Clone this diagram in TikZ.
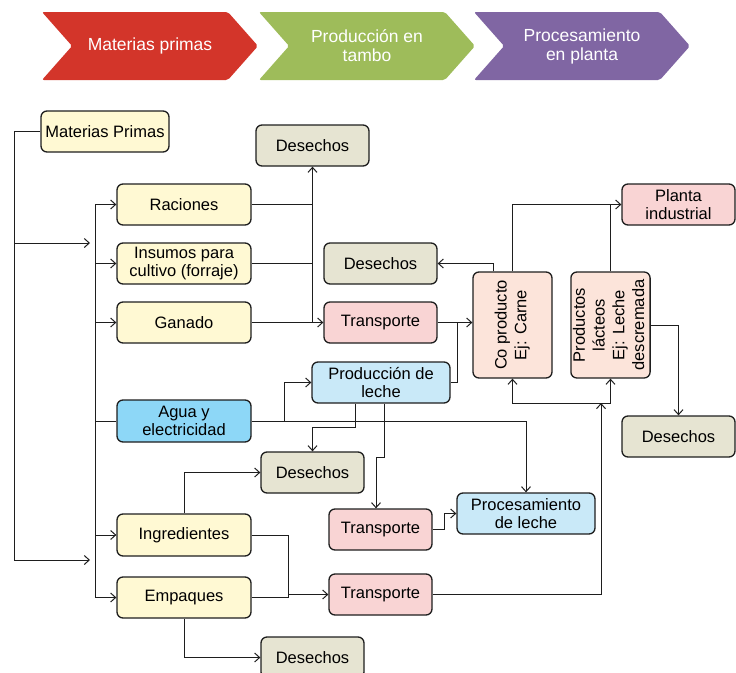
\documentclass[tikz,border=0pt]{standalone}
\usepackage{fontspec}
\setmainfont{Liberation Sans}
\usetikzlibrary{arrows.meta,shapes.symbols}
\definecolor{rojo}{HTML}{D3352A}
\definecolor{verde}{HTML}{9EBC5A}
\definecolor{morado}{HTML}{8066A3}
\definecolor{amarillo}{HTML}{FFF9D3}
\definecolor{gris}{HTML}{E6E4D2}
\definecolor{rosa}{HTML}{F9D4D4}
\definecolor{salmon}{HTML}{FCE4DA}
\definecolor{celeste}{HTML}{C9E9F8}
\definecolor{azul}{HTML}{8DD7F7}
\definecolor{trazo}{HTML}{1E1E1E}
\tikzset{
  caja/.style={draw=trazo,line width=1.3pt,rounded corners=6pt,minimum height=41pt,inner sep=0pt,align=center},
  flecha/.style={-{Straight Barb[length=5pt,width=9pt]},trazo,line width=1pt},
  linea/.style={trazo,line width=1pt},
  encabezado/.style={signal,signal to=east,signal from=west,signal pointer angle=97,minimum width=216pt,minimum height=68pt,inner sep=0pt,text=white,align=center,rounded corners=2pt,font=\fontsize{17.5}{19}\selectfont},
}
\newcommand{\vertical}[1]{\rotatebox{90}{\renewcommand{\arraystretch}{1.1}\begin{tabular}{@{}c@{}}#1\end{tabular}}}

\begin{document}
\begin{tikzpicture}[x=1pt,y=-1pt,font=\fontsize{16.5}{18}\selectfont]
  \useasboundingbox (0,0) rectangle (736,672);
  % encabezado
  \node[encabezado,fill=rojo] (h1) at (150,46) {Materias primas};
  \node[encabezado,fill=verde] (h2) at (367,46) {Producción en\\tambo};
  \node[encabezado,fill=morado] (h3) at (582,46) {Procesamiento\\en planta};
  % columna de insumos
  \node[caja,fill=amarillo,minimum width=128pt] (mp) at (105,131.5) {Materias Primas};
  \node[caja,fill=amarillo,minimum width=134pt] (rac) at (184,204.5) {Raciones};
  \node[caja,fill=amarillo,minimum width=134pt] (ins) at (184,263.5) {Insumos para\\cultivo (forraje)};
  \node[caja,fill=amarillo,minimum width=134pt] (gan) at (184,322.5) {Ganado};
  \node[caja,fill=azul,minimum width=134pt,minimum height=42pt] (agua) at (184,421) {Agua y\\electricidad};
  \node[caja,fill=amarillo,minimum width=134pt,minimum height=42pt] (ingr) at (184,535) {Ingredientes};
  \node[caja,fill=amarillo,minimum width=134pt] (emp) at (184,597.5) {Empaques};
  % tambo
  \node[caja,fill=gris,minimum width=113pt] (des1) at (312.5,145.5) {Desechos};
  \node[caja,fill=gris,minimum width=113pt] (des2) at (380.5,263.5) {Desechos};
  \node[caja,fill=rosa,minimum width=113pt] (tra1) at (380.5,322.5) {Transporte};
  \node[caja,fill=celeste,minimum width=138pt] (leche) at (381,382.5) {Producción de\\leche};
  \node[caja,fill=gris,minimum width=103pt] (des3) at (312.5,472.5) {Desechos};
  \node[caja,fill=rosa,minimum width=103pt] (tra2) at (380.5,529.5) {Transporte};
  \node[caja,fill=rosa,minimum width=103pt] (tra3) at (380.5,594.5) {Transporte};
  \node[caja,fill=gris,minimum width=103pt] (des5) at (312.5,657.5) {Desechos};
  % planta
  \node[caja,fill=salmon,minimum width=79pt,minimum height=106pt] (cop) at (512.5,325) {\vertical{Co producto\\Ej: Carne}};
  \node[caja,fill=salmon,minimum width=79pt,minimum height=106pt] (lac) at (610.5,325) {\vertical{Productos\\lácteos\\Ej: Leche\\descremada}};
  \node[caja,fill=rosa,minimum width=113pt] (planta) at (678.5,204.5) {Planta\\industrial};
  \node[caja,fill=gris,minimum width=113pt] (des4) at (678.5,436.5) {Desechos};
  \node[caja,fill=celeste,minimum width=138pt] (proc) at (526,513.5) {Procesamiento\\de leche};
  % puntos de union
  \coordinate (ea) at (14,243);
  \coordinate (eb) at (14,560);
  \coordinate (fa) at (90,243);
  \coordinate (fb) at (90,560);
  \coordinate (sp) at (95,0);
  \coordinate (jl) at ([xshift=20pt]tra1.east);
  \coordinate (jb) at (601,403);
  \coordinate (je) at ([xshift=-40pt]tra3.west);
  % conexiones de la izquierda
  \draw[flecha] (mp.west) -| (eb) -- (fb);
  \draw[flecha] (ea) -- (fa);
  \draw[linea] (rac.west -| sp) -- (emp.west -| sp);
  \draw[flecha] (rac.west -| sp) -- (rac.west);
  \draw[flecha] (ins.west -| sp) -- (ins.west);
  \draw[flecha] (gan.west -| sp) -- (gan.west);
  \draw[linea] (agua.west -| sp) -- (agua.west);
  \draw[flecha] (ingr.west -| sp) -- (ingr.west);
  \draw[flecha] (emp.west -| sp) -- (emp.west);
  % desechos y transporte
  \draw[linea] (rac.east) -- (rac.east -| des1.south);
  \draw[linea] (ins.east) -- (ins.east -| des1.south);
  \draw[flecha] (gan.east -| des1.south) -- (des1.south);
  \draw[flecha] (gan.east) -- (gan.east -| tra1.west);
  \draw[flecha] (tra1.east) -- (tra1.east -| cop.west);
  \draw[linea] (leche.east) -| (jl);
  \draw[flecha] ([xshift=-19.5pt]cop.north) |- (des2.east);
  \draw[flecha] (cop.north) |- (planta.west);
  \draw[linea] (lac.north) -- (lac.north |- planta.west);
  \draw[flecha] (lac.east) -| (des4.north);
  % agua y leche
  \draw[flecha] (agua.east) -| (proc.north);
  \draw[flecha] ([xshift=33pt]agua.east) |- (leche.west);
  \draw[flecha] ([xshift=-26pt]leche.south) -- ++(0,24) -| (des3.north);
  \draw[flecha] ([xshift=3pt]leche.south) -- ++(0,54) -| ([xshift=-4.5pt]tra2.north);
  \draw[flecha] (tra2.east) -- ++(12,0) |- (proc.west);
  % ingredientes y empaques
  \draw[flecha] (ingr.north) |- (des3.west);
  \draw[linea] (ingr.east) -| (je);
  \draw[linea] (emp.east) -| (je);
  \draw[flecha] (je) -- (tra3.west);
  \draw[flecha] (emp.south) |- (des5.west);
  % hacia la planta
  \draw[flecha] (tra3.east) -| (jb);
  \draw[flecha] (jb) -| (cop.south);
  \draw[flecha] (jb) -| (lac.south);
\end{tikzpicture}
\end{document}
